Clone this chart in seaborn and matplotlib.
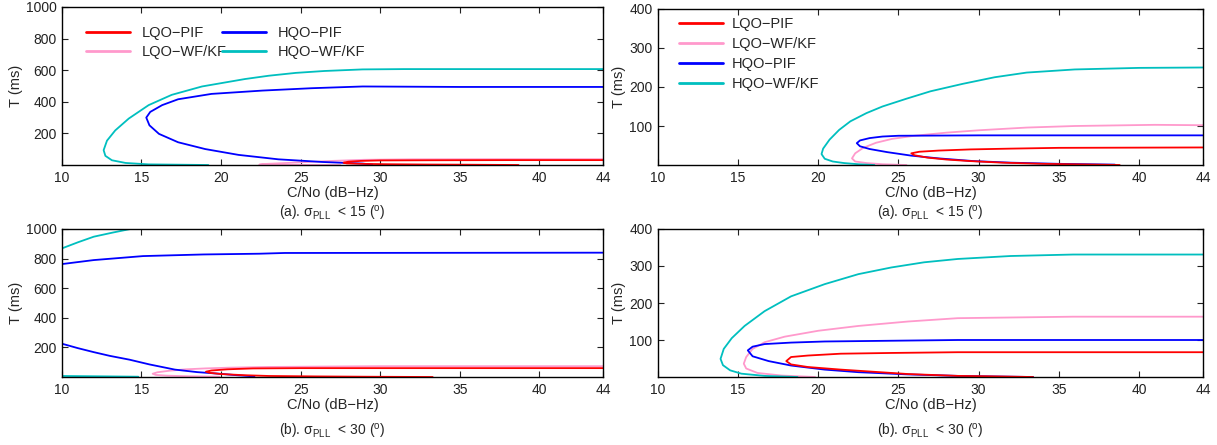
import pandas as pd
import numpy as np
import matplotlib.pyplot as plt
import seaborn as sns
from matplotlib.lines import Line2D

# Series names and colours (legend order)
schemes = ['LQO\u2212PIF', 'LQO\u2212WF/KF', 'HQO\u2212PIF', 'HQO\u2212WF/KF']
colors = ['#ff0000', '#ff99cc', '#0000ff', '#00bfbf']

x_ticks = [10, 15, 20, 25, 30, 35, 40, 44]

# ---- panel (a) sigma < 15, T up to 1000 ms (top left)
tl_lqo_pif_cn = [44, 38, 33, 30, 28.8, 28.0, 27.7, 27.9, 29, 30.5, 33, 35.4, 38.7]
tl_lqo_pif_t = [31, 31, 30, 29, 26, 21, 15, 10, 7, 5, 3, 2, 0]
tl_lqo_wf_cn = [44, 38, 32, 29, 27, 25, 23.5, 22.6, 22.4, 23, 24.5, 26, 27.5]
tl_lqo_wf_t = [37, 37, 36, 33, 26, 17, 10, 6, 2, 1, 0.5, 0.3, 0]
tl_hqo_pif_cn = [44, 35, 28.9, 25.7, 22.6, 19.4, 17.3, 16.3, 15.55, 15.3, 15.5, 16.1, 17.3,
                 19.0, 21.1, 23.6, 26.4, 28.9, 29.5]
tl_hqo_pif_t = [494, 494, 497, 486, 471, 450, 416, 379, 336, 300, 251, 197, 144,
                101, 64, 36, 19, 9, 3]
tl_hqo_wf_cn = [44, 31.5, 28.9, 26.5, 24.7, 23, 21.5, 18.8, 16.9, 15.45, 14.2, 13.35, 12.83,
                12.62, 12.73, 13.14, 14.0, 15.45, 19.2]
tl_hqo_wf_t = [607, 607, 605, 595, 583, 565, 544, 497, 444, 379, 294, 219, 154,
               94, 58, 30, 13, 4, 0]

# ---- panel (a) sigma < 15, T up to 400 ms (top right)
tr_lqo_pif_cn = [44, 35, 32, 29.5, 27.5, 26.3, 25.8, 26, 26.8, 28, 29.5, 31.5, 34, 36.5, 38.8]
tr_lqo_pif_t = [45, 44, 42, 40, 37, 34, 30, 25, 19, 14, 10, 6, 3, 1.5, 0]
tr_lqo_wf_cn = [44, 41, 36, 33, 30, 28, 26, 24.6, 23.6, 22.8, 22.3, 22.1, 22.3, 23, 24, 25.5]
tr_lqo_wf_t = [102, 103, 100, 96, 89, 83, 75, 67, 57, 44, 30, 17, 9, 5, 2, 0]
tr_hqo_pif_cn = [44, 30, 25, 24, 23.2, 22.6, 22.4, 22.6, 23.2, 24.3, 25.8, 27.5, 29.7, 32, 35, 38.5]
tr_hqo_pif_t = [76, 76, 75, 73, 69, 63, 56, 48, 41, 33, 24, 17, 10, 6, 3, 1]
tr_hqo_wf_cn = [44, 40, 36, 33, 31, 29, 27, 25.5, 24, 23, 22, 21.3, 20.7, 20.3, 20.2, 20.4,
                20.9, 21.6, 22.5, 23.5]
tr_hqo_wf_t = [250, 249, 245, 237, 225, 208, 189, 170, 150, 133, 112, 90, 65, 42, 28, 16,
               9, 5, 2, 0]

# ---- panel (b) sigma < 30, T up to 1000 ms (bottom left); some curves come in two pieces
bl_lqo_pif_cn = [44, 25, 22, 20.4, 19.4, 19.05, 19.3, 20, 21.5, 23, 26, 29, 33.3]
bl_lqo_pif_t = [60, 60, 58, 52, 44, 36, 28, 20, 12, 7, 4, 2, 0]
bl_lqo_wf_cn = [44, 30, 23, 20.5, 19, 17.8, 16.8, 16.0, 15.7, 15.9, 16.6, 18, 19.9]
bl_lqo_wf_t = [73, 73, 68, 63, 58, 52, 43, 32, 22, 14, 9, 5, 2]
bl_hqo_pif_up_cn = [44, 24, 22.4, 18.9, 15.1, 12.0, 10]
bl_hqo_pif_up_t = [840, 838, 833, 828, 817, 790, 763]
bl_hqo_pif_lo_cn = [10, 11, 12, 13, 14.25, 15.5, 17.1, 18.5, 19.9, 21, 22.1]
bl_hqo_pif_lo_t = [225, 195, 168, 143, 117, 85, 50, 33, 22, 12, 4]
bl_hqo_wf_up_cn = [14.3, 13.2, 12.0, 11.0, 10]
bl_hqo_wf_up_t = [1000, 976, 948, 910, 869]
bl_hqo_wf_lo_cn = [10, 11, 13, 14.8]
bl_hqo_wf_lo_t = [7, 6, 4, 2]

# ---- panel (b) sigma < 30, T up to 400 ms (bottom right)
br_lqo_pif_cn = [44, 28.7, 24.55, 21.4, 19.35, 18.3, 18.0, 18.3, 19.35, 21.4, 23.5, 25.6,
                 28.7, 30.5, 33.4]
br_lqo_pif_t = [67, 67, 65, 63, 58, 54, 43, 34, 27, 20, 14, 8, 3, 2, 0]
br_lqo_wf_cn = [44, 35.9, 28.7, 25.6, 22.5, 20, 17.9, 16.65, 15.9, 15.5, 15.35, 15.5, 16.2,
                17.7, 19.8]
br_lqo_wf_t = [163, 163, 159, 150, 138, 125, 109, 94, 76, 54, 36, 23, 11, 4, 0]
br_hqo_pif_cn = [44, 28.7, 24.55, 20.4, 18.3, 16.65, 15.9, 15.6, 15.9, 16.9, 18.3, 20.4, 22.5,
                 25.6, 28.7, 31, 33.4]
br_hqo_pif_t = [100, 100, 98, 96, 93, 89, 82, 72, 56, 43, 31, 20, 13, 7, 3, 1.5, 0]
br_hqo_wf_cn = [44, 35.9, 32, 28.7, 26.6, 24.55, 22.5, 20.4, 18.3, 16.65, 15.4, 14.6, 14.1,
                13.9, 14.05, 14.5, 15.2, 16.65, 18.7]
br_hqo_wf_t = [331, 331, 327, 319, 310, 296, 278, 251, 218, 178, 138, 105, 76,
               49, 32, 18, 9, 3, 0]


def frame(pieces):
    rows = []
    for seg, (name, cn, t) in enumerate(pieces):
        rows.append(pd.DataFrame({'cn': cn, 't': t, 'scheme': name, 'seg': seg}))
    return pd.concat(rows, ignore_index=True)


panels = [
    dict(data=frame([(schemes[0], tl_lqo_pif_cn, tl_lqo_pif_t),
                     (schemes[1], tl_lqo_wf_cn, tl_lqo_wf_t),
                     (schemes[2], tl_hqo_pif_cn, tl_hqo_pif_t),
                     (schemes[3], tl_hqo_wf_cn, tl_hqo_wf_t)]),
         ymax=1000, yticks=[200, 400, 600, 800, 1000], caption='(a)', thr=15,
         rect=[0.0509, 0.6292, 0.4445, 0.3551], legend='two'),
    dict(data=frame([(schemes[0], tr_lqo_pif_cn, tr_lqo_pif_t),
                     (schemes[1], tr_lqo_wf_cn, tr_lqo_wf_t),
                     (schemes[2], tr_hqo_pif_cn, tr_hqo_pif_t),
                     (schemes[3], tr_hqo_wf_cn, tr_hqo_wf_t)]),
         ymax=400, yticks=[100, 200, 300, 400], caption='(a)', thr=15,
         rect=[0.5407, 0.6292, 0.4478, 0.3506], legend='one'),
    dict(data=frame([(schemes[0], bl_lqo_pif_cn, bl_lqo_pif_t),
                     (schemes[1], bl_lqo_wf_cn, bl_lqo_wf_t),
                     (schemes[2], bl_hqo_pif_up_cn, bl_hqo_pif_up_t),
                     (schemes[2], bl_hqo_pif_lo_cn, bl_hqo_pif_lo_t),
                     (schemes[3], bl_hqo_wf_up_cn, bl_hqo_wf_up_t),
                     (schemes[3], bl_hqo_wf_lo_cn, bl_hqo_wf_lo_t)]),
         ymax=1000, yticks=[200, 400, 600, 800, 1000], caption='(b)', thr=30,
         rect=[0.0509, 0.1528, 0.4445, 0.3326], legend=None),
    dict(data=frame([(schemes[0], br_lqo_pif_cn, br_lqo_pif_t),
                     (schemes[1], br_lqo_wf_cn, br_lqo_wf_t),
                     (schemes[2], br_hqo_pif_cn, br_hqo_pif_t),
                     (schemes[3], br_hqo_wf_cn, br_hqo_wf_t)]),
         ymax=400, yticks=[100, 200, 300, 400], caption='(b)', thr=30,
         rect=[0.5407, 0.1528, 0.4478, 0.3326], legend=None),
]

sns.set_style("ticks")
plt.rcParams['font.family'] = ['Liberation Sans', 'DejaVu Sans']
plt.rcParams['mathtext.fontset'] = 'custom'
plt.rcParams['mathtext.rm'] = 'Liberation Sans'
plt.rcParams['mathtext.it'] = 'Liberation Sans:italic'
plt.rcParams['font.size'] = 10

fig = plt.figure(figsize=(12.17, 4.45), dpi=100)
palette = dict(zip(schemes, colors))

for p in panels:
    ax = fig.add_axes(p['rect'])
    d = p['data']
    # draw red last so it sits on top like the original
    for name in [schemes[1], schemes[3], schemes[2], schemes[0]]:
        sub = d[d['scheme'] == name]
        sns.lineplot(data=sub, x='cn', y='t', units='seg', estimator=None, sort=False,
                     color=palette[name], linewidth=1.3, ax=ax, legend=False)
    ax.set_xlim(10, 44)
    ax.set_ylim(0, p['ymax'])
    ax.set_xticks(x_ticks)
    ax.set_yticks(p['yticks'])
    ax.tick_params(direction='in', top=True, right=True, length=4, width=0.8,
                   labelsize=10, pad=4, colors='#222222')
    for s in ax.spines.values():
        s.set_linewidth(1.0)
        s.set_color('black')
    ax.set_xlabel('C/No (dB\u2212Hz)', fontsize=10.5, labelpad=1)
    ax.set_ylabel('T (ms)', fontsize=10.5, labelpad=2)
    cap_y = -0.31 if p['caption'] == '(a)' else -0.37
    ax.text(0.5, cap_y, p['caption'] + '. \u03c3$_{\\rm PLL}$  < %d ($^{\\rm o}$)' % p['thr'],
            transform=ax.transAxes, ha='center', va='center', fontsize=10)
    if p['legend']:
        handles = [Line2D([], [], color=c, linewidth=2) for c in colors]
        if p['legend'] == 'two':
            ax.legend(handles, schemes, ncol=2, loc='upper left', frameon=False,
                      fontsize=10.5, handlelength=3.0, handletextpad=0.8,
                      columnspacing=-0.3, labelspacing=0.3, bbox_to_anchor=(0.02, 0.96))
        else:
            ax.legend(handles, schemes, ncol=1, loc='upper left', frameon=False,
                      fontsize=10.5, handlelength=3.0, handletextpad=0.6,
                      labelspacing=0.4, bbox_to_anchor=(0.015, 1.03))

fig.savefig('out.png', dpi=100)
